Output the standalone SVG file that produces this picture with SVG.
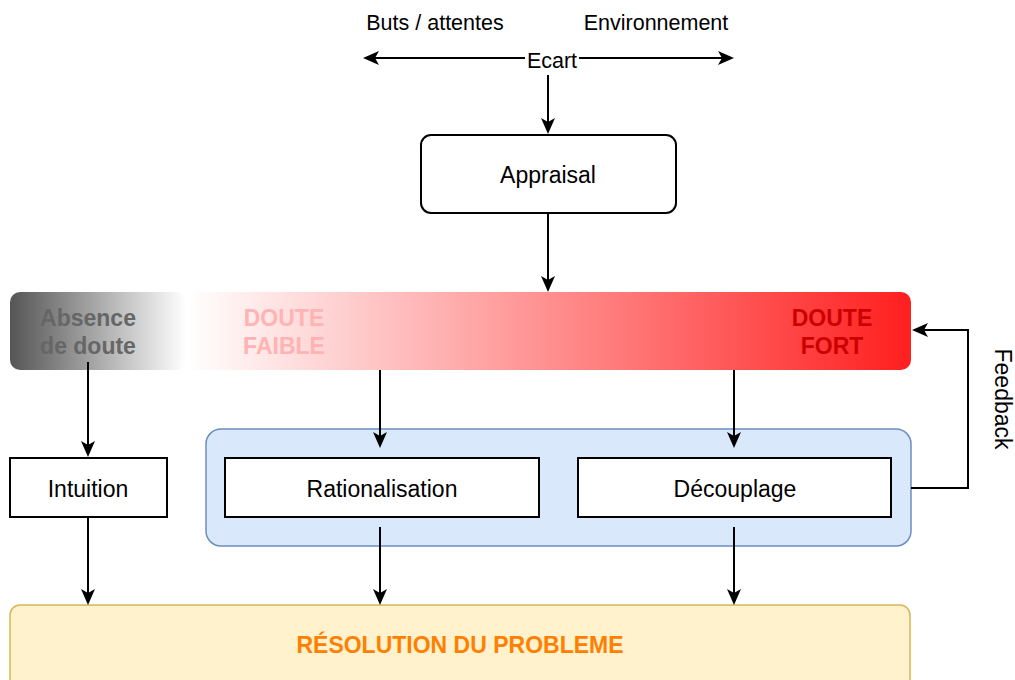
<svg xmlns="http://www.w3.org/2000/svg" width="1015" height="680" viewBox="0 0 1015 680">
<defs>
<style>
text{font-family:"Liberation Sans",Arial,sans-serif;}
.t{font-size:23px;fill:#000;text-anchor:middle;}
.s{font-size:21.5px;fill:#000;text-anchor:middle;}
.b{font-size:23px;font-weight:bold;text-anchor:middle;}
.box{fill:#fff;stroke:#000;stroke-width:2;}
.ln{fill:none;stroke:#000;stroke-width:2;}
.ah{fill:#000;}
</style>
<linearGradient id="g1" x1="0" y1="0" x2="1" y2="0">
<stop offset="0" stop-color="#555"/><stop offset="1" stop-color="#fff"/>
</linearGradient>
<linearGradient id="g2" x1="0" y1="0" x2="1" y2="0">
<stop offset="0" stop-color="#fff"/><stop offset="1" stop-color="#ff1f1f"/>
</linearGradient>
<path id="down" class="ah" d="M0,0 L-7,-16 L0,-12 L7,-16 Z"/>
</defs>
<rect width="1015" height="680" fill="#fff"/>
<g id="labels-top">
<text class="s" x="435" y="30">Buts / attentes</text>
<text class="s" x="656" y="30">Environnement</text>
</g>
<g id="appraisal">
<rect class="box" x="421" y="135" width="255" height="78" rx="10"/>
<text class="t" x="548" y="183">Appraisal</text>
</g>
<g id="absence">
<rect x="10" y="292" width="176" height="78" rx="10" fill="url(#g1)"/>
<text class="b" x="88" y="326" fill="#666">Absence</text>
<text class="b" x="88" y="354" fill="#666">de doute</text>
</g>
<g id="doute">
<rect x="187" y="292" width="724" height="78" rx="10" fill="url(#g2)"/>
<text class="b" x="284" y="326" fill="#ffb3b3">DOUTE</text>
<text class="b" x="284" y="354" fill="#ffb3b3">FAIBLE</text>
<text class="b" x="832" y="326" fill="#c00">DOUTE</text>
<text class="b" x="832" y="354" fill="#c00">FORT</text>
</g>
<g id="container">
<rect x="206" y="429" width="705" height="117" rx="15" fill="#dae8fc" stroke="#6c8ebf" stroke-width="1.5"/>
</g>
<g id="intuition">
<rect class="box" x="10" y="458" width="157" height="59"/>
<text class="t" x="88" y="497">Intuition</text>
</g>
<g id="rationalisation">
<rect class="box" x="225" y="458" width="314" height="59"/>
<text class="t" x="382" y="497">Rationalisation</text>
</g>
<g id="decouplage">
<rect class="box" x="578" y="458" width="313" height="59"/>
<text class="t" x="735" y="497">Découplage</text>
</g>
<g id="feedback">
<text class="t" transform="translate(995,399) rotate(90)">Feedback</text>
</g>
<g id="resolution">
<rect x="10" y="605" width="900" height="90" rx="10" fill="#fff2cc" stroke="#d6b656" stroke-width="1.5"/>
<text class="b" x="460" y="653" fill="#ff8000">RÉSOLUTION DU PROBLEME</text>
</g>
<g id="connectors">
<line class="ln" x1="372" y1="58" x2="725" y2="58"/>
<line class="ln" x1="548" y1="75" x2="548" y2="124"/>
<line class="ln" x1="548" y1="213" x2="548" y2="282"/>
<line class="ln" x1="88" y1="362" x2="88" y2="447"/>
<line class="ln" x1="380" y1="370" x2="380" y2="438"/>
<line class="ln" x1="734" y1="370" x2="734" y2="438"/>
<line class="ln" x1="88" y1="517" x2="88" y2="595"/>
<line class="ln" x1="380" y1="527" x2="380" y2="595"/>
<line class="ln" x1="734" y1="527" x2="734" y2="595"/>
<polyline class="ln" points="911,488 968,488 968,330 922,330"/>
<use href="#down" transform="translate(363,58) rotate(90)"/>
<use href="#down" transform="translate(734,58) rotate(-90)"/>
<use href="#down" transform="translate(548,134)"/>
<use href="#down" transform="translate(548,292)"/>
<use href="#down" transform="translate(88,457)"/>
<use href="#down" transform="translate(380,448)"/>
<use href="#down" transform="translate(734,448)"/>
<use href="#down" transform="translate(88,605)"/>
<use href="#down" transform="translate(380,605)"/>
<use href="#down" transform="translate(734,605)"/>
<use href="#down" transform="translate(912,330) rotate(90)"/>
</g>
<g id="ecart">
<rect x="525" y="49" width="54" height="22" fill="#fff"/>
<text class="s" x="552" y="68">Ecart</text>
</g>
</svg>
